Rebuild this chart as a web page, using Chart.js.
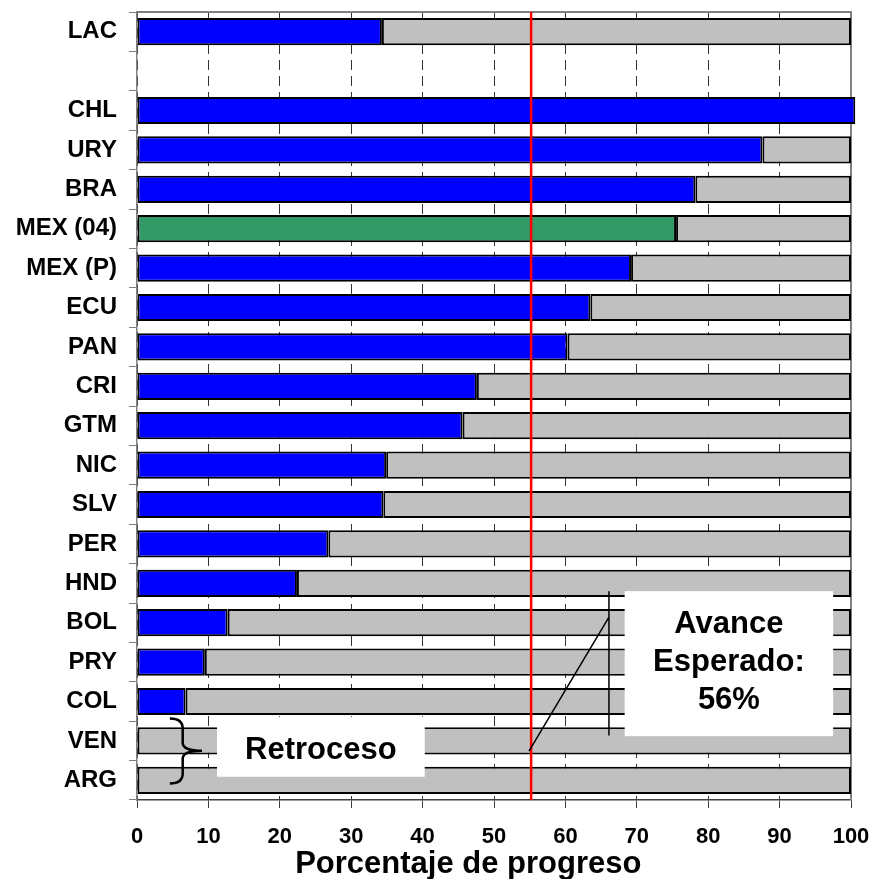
<!DOCTYPE html>
<html>
<head>
<meta charset="utf-8">
<script src="https://cdn.jsdelivr.net/npm/chart.js@4.4.1/dist/chart.umd.min.js"></script>
<style>
    body { margin: 0; background: #fff; }
    #wrap { width: 874px; height: 879px; position: relative; }
</style>
</head>
<body>
<div id="wrap"><canvas id="progress-chart"></canvas></div>
<script>
// Data
const categories = ['LAC', '', 'CHL', 'URY', 'BRA', 'MEX (04)', 'MEX (P)', 'ECU', 'PAN', 'CRI',
    'GTM', 'NIC', 'SLV', 'PER', 'HND', 'BOL', 'PRY', 'COL', 'VEN', 'ARG'];
const progress = [34.3, null, 100.6, 87.6, 78.2, 75.5, 69.2, 63.5, 60.3, 47.6,
    45.6, 34.9, 34.5, 26.8, 22.4, 12.7, 9.5, 6.8, 0, 0];
const xTicks = [0, 10, 20, 30, 40, 50, 60, 70, 80, 90, 100];
const expectedProgress = 55.2;
const expectedLabel = ['Avance', 'Esperado:', '56%'];
const setbackLabel = 'Retroceso';
const axisTitle = 'Porcentaje de progreso';

const FONT = "'Liberation Sans', Arial, sans-serif";
const BLUE = '#0000FF';
const GREEN = '#339966';
const GRAY = '#C0C0C0';

const remainder = progress.map(v => (v === null || v >= 100) ? null : 100 - v);
const progressColors = categories.map(c => c === 'MEX (04)' ? GREEN : BLUE);

// kill the automatic label padding so the plot area sits where the original does
function noPadding(scale) {
    scale.paddingTop = 0;
    scale.paddingBottom = 0;
    scale.paddingLeft = 0;
    scale.paddingRight = 0;
}

// Frame, red target line and the two text boxes
const overlayPlugin = {
    id: 'overlay',
    beforeDatasetsDraw(chart) {
        const { ctx, chartArea: a } = chart;
        ctx.save();
        ctx.strokeStyle = '#808080';
        ctx.lineWidth = 2;
        ctx.beginPath();
        ctx.moveTo(a.left, a.top);
        ctx.lineTo(a.right, a.top);
        ctx.lineTo(a.right, a.bottom);
        ctx.stroke();
        ctx.restore();
    },
    afterDatasetsDraw(chart) {
        const { ctx, chartArea: a, scales: { x, y } } = chart;
        const px = v => x.getPixelForValue(v);
        const step = y.height / categories.length;
        const py = f => y.top + (f + 0.5) * step;

        ctx.save();
        // expected progress line
        ctx.strokeStyle = '#FF0000';
        ctx.lineWidth = 2.5;
        ctx.beginPath();
        ctx.moveTo(px(expectedProgress), a.top);
        ctx.lineTo(px(expectedProgress), a.bottom);
        ctx.stroke();

        // "Avance Esperado" box and pointer lines
        ctx.fillStyle = '#fff';
        ctx.fillRect(px(68.3), py(14.2), px(97.5) - px(68.3), py(17.88) - py(14.2));
        ctx.strokeStyle = '#000';
        ctx.lineWidth = 1.5;
        ctx.beginPath();
        ctx.moveTo(px(66.1), py(14.2));
        ctx.lineTo(px(66.1), py(17.86));
        ctx.moveTo(px(66.1), py(14.86));
        ctx.lineTo(px(54.9), py(18.26));
        ctx.stroke();

        ctx.fillStyle = '#000';
        ctx.font = 'bold 31px ' + FONT;
        ctx.textAlign = 'center';
        ctx.textBaseline = 'alphabetic';
        const cx = (px(68.3) + px(97.5)) / 2;
        const baselines = [15.27, 16.23, 17.2];
        expectedLabel.forEach((t, i) => ctx.fillText(t, cx, py(baselines[i])));

        // "Retroceso" box
        ctx.fillStyle = '#fff';
        ctx.fillRect(px(11.2), py(17.39), px(40.3) - px(11.2), py(18.91) - py(17.39));
        ctx.fillStyle = '#000';
        ctx.fillText(setbackLabel, (px(11.2) + px(40.3)) / 2, py(18.46));

        // curly brace
        const bx0 = px(4.6), bx1 = px(6.4), bx2 = px(9.1);
        const top = py(17.43), mid = py(18.25), bot = py(19.08);
        ctx.lineWidth = 2.5;
        ctx.beginPath();
        ctx.moveTo(bx0, top);
        ctx.quadraticCurveTo(bx1, top, bx1, top + 10);
        ctx.lineTo(bx1, mid - 8);
        ctx.quadraticCurveTo(bx1, mid, bx2, mid);
        ctx.quadraticCurveTo(bx1, mid, bx1, mid + 8);
        ctx.lineTo(bx1, bot - 10);
        ctx.quadraticCurveTo(bx1, bot, bx0, bot);
        ctx.stroke();
        ctx.restore();
    },
    afterDraw(chart) {
        const { ctx, scales: { x } } = chart;
        ctx.save();
        ctx.fillStyle = '#000';
        ctx.font = 'bold 31px ' + FONT;
        ctx.textAlign = 'center';
        ctx.textBaseline = 'alphabetic';
        ctx.fillText(axisTitle, x.getPixelForValue(46.4), 873);
        ctx.restore();
    }
};

function createProgressChart() {
    const ctx = document.getElementById('progress-chart').getContext('2d');
    new Chart(ctx, {
        type: 'bar',
        data: {
            labels: categories,
            datasets: [
                {
                    label: 'Progreso',
                    data: progress,
                    backgroundColor: progressColors,
                    borderColor: '#000',
                    borderWidth: 2,
                    borderSkipped: false,
                    clip: false,
                    barPercentage: 0.69,
                    categoryPercentage: 1
                },
                {
                    label: 'Restante',
                    data: remainder,
                    backgroundColor: GRAY,
                    borderColor: '#000',
                    borderWidth: 2,
                    borderSkipped: false,
                    barPercentage: 0.69,
                    categoryPercentage: 1
                }
            ]
        },
        options: {
            indexAxis: 'y',
            responsive: true,
            maintainAspectRatio: false,
            animation: false,
            layout: { autoPadding: false, padding: { top: 12, right: 23, left: 0, bottom: 0 } },
            plugins: {
                legend: { display: false },
                tooltip: { enabled: false }
            },
            scales: {
                x: {
                    stacked: true,
                    min: 0,
                    max: 100,
                    afterBuildTicks: scale => { scale.ticks = xTicks.map(v => ({ value: v })); },
                    afterFit: scale => { scale.height = 79; noPadding(scale); },
                    ticks: {
                        autoSkip: false,
                        maxRotation: 0,
                        padding: 16,
                        color: '#000',
                        font: { family: FONT, size: 22, weight: 'bold' }
                    },
                    grid: {
                        color: '#333',
                        lineWidth: 1,
                        tickLength: 8,
                        tickColor: '#404040',
                        tickBorderDash: []
                    },
                    border: { color: '#404040', width: 1.5, dash: [10, 6] }
                },
                y: {
                    stacked: true,
                    afterFit: scale => { scale.width = 137; noPadding(scale); },
                    ticks: {
                        autoSkip: false,
                        padding: 12,
                        color: '#000',
                        font: { family: FONT, size: 24, weight: 'bold' }
                    },
                    grid: {
                        offset: true,
                        drawOnChartArea: false,
                        tickLength: 8,
                        color: '#808080'
                    },
                    border: { color: '#808080', width: 1.5 }
                }
            }
        },
        plugins: [overlayPlugin]
    });
}

document.addEventListener('DOMContentLoaded', createProgressChart);
</script>
</body>
</html>
